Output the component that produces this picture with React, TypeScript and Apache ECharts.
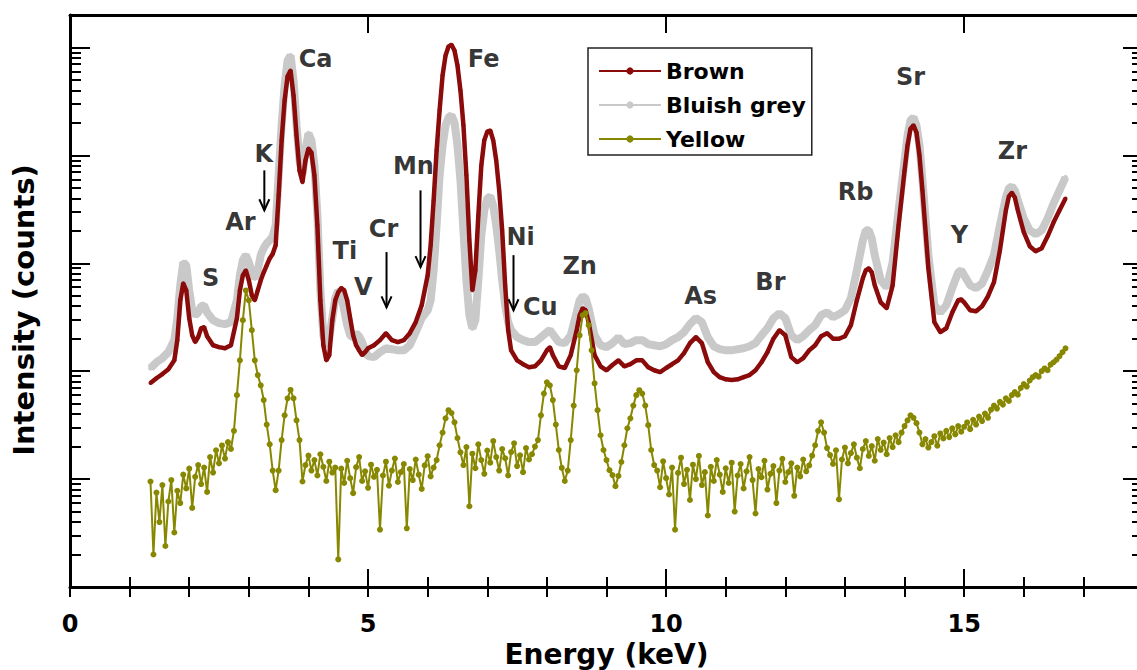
import { useEffect, useRef } from "react";
import * as echarts from "echarts";

const FONT = "DejaVu Sans";

// Energy (keV) vs intensity (counts)
const grey: [number, number][] = [
  [1.35, 107], [1.45, 121], [1.55, 132], [1.65, 150], [1.75, 194], [1.8, 310], [1.85, 625], [1.9, 1020],
  [1.95, 958], [2.0, 562], [2.05, 367], [2.1, 330], [2.15, 350], [2.2, 400], [2.25, 408], [2.3, 350],
  [2.4, 297], [2.5, 279], [2.6, 273], [2.7, 285], [2.8, 454], [2.85, 774], [2.9, 1070], [2.95, 1190],
  [3.0, 1020], [3.05, 825], [3.1, 727], [3.15, 861], [3.2, 1190], [3.25, 1380], [3.3, 1530], [3.35, 1630],
  [3.4, 1780], [3.45, 2250], [3.5, 6530], [3.55, 19000], [3.6, 44500], [3.65, 75800], [3.7, 84300], [3.75, 49500],
  [3.8, 19000], [3.85, 8990], [3.9, 6670], [3.95, 11100], [4.0, 16000], [4.05, 13800], [4.1, 8080], [4.15, 2780],
  [4.2, 562], [4.25, 215], [4.3, 174], [4.35, 206], [4.4, 310], [4.45, 474], [4.5, 562], [4.55, 505],
  [4.6, 367], [4.65, 267], [4.7, 215], [4.75, 206], [4.8, 225], [4.85, 211], [4.9, 186], [4.95, 156],
  [5.0, 138], [5.1, 135], [5.2, 150], [5.3, 163], [5.4, 160], [5.5, 156], [5.6, 156], [5.7, 174],
  [5.8, 230], [5.9, 310], [6.0, 367], [6.05, 454], [6.1, 861], [6.15, 2250], [6.2, 6530], [6.25, 12400],
  [6.3, 19000], [6.35, 22500], [6.4, 23500], [6.45, 20200], [6.5, 12400], [6.55, 5870], [6.6, 2020], [6.65, 696],
  [6.7, 330], [6.75, 250], [6.8, 297], [6.85, 696], [6.9, 1820], [6.95, 3100], [7.0, 3990], [7.05, 4170],
  [7.1, 3440], [7.15, 2250], [7.2, 1320], [7.25, 696], [7.3, 408], [7.35, 285], [7.4, 240], [7.5, 207],
  [7.6, 194], [7.7, 186], [7.8, 186], [7.9, 206], [8.0, 230], [8.05, 240], [8.1, 220], [8.2, 186],
  [8.3, 182], [8.4, 215], [8.5, 350], [8.55, 454], [8.6, 495], [8.65, 474], [8.7, 383], [8.8, 215],
  [8.9, 174], [9.0, 167], [9.1, 182], [9.2, 206], [9.3, 178], [9.4, 182], [9.5, 194], [9.6, 194],
  [9.7, 178], [9.8, 174], [9.9, 170], [10.0, 178], [10.1, 194], [10.2, 207], [10.3, 230], [10.4, 273],
  [10.5, 310], [10.6, 285], [10.7, 206], [10.8, 170], [10.9, 160], [11.0, 156], [11.1, 156], [11.2, 160],
  [11.3, 163], [11.4, 170], [11.5, 182], [11.6, 215], [11.7, 250], [11.8, 310], [11.9, 343], [12.0, 310],
  [12.1, 215], [12.2, 194], [12.3, 211], [12.4, 240], [12.5, 267], [12.6, 330], [12.7, 350], [12.8, 317],
  [12.9, 337], [13.0, 367], [13.1, 474], [13.2, 861], [13.3, 1630], [13.35, 2020], [13.4, 2020], [13.45, 1700],
  [13.5, 1190], [13.6, 696], [13.7, 600], [13.8, 1020], [13.9, 3100], [14.0, 8990], [14.05, 15300], [14.1, 21100],
  [14.15, 22500], [14.2, 19000], [14.25, 12400], [14.3, 5870], [14.4, 1190], [14.5, 408], [14.6, 350], [14.7, 408],
  [14.8, 590], [14.9, 825], [14.95, 861], [15.0, 774], [15.1, 625], [15.2, 590], [15.3, 650], [15.4, 861],
  [15.5, 1190], [15.6, 2250], [15.7, 4080], [15.75, 4950], [15.8, 5150], [15.85, 4740], [15.9, 3830], [16.0, 2600],
  [16.1, 2020], [16.2, 1860], [16.3, 2020], [16.4, 2600], [16.5, 3590], [16.6, 4740], [16.7, 6250],
];

const brown: [number, number][] = [
  [1.35, 77.6], [1.45, 86], [1.55, 94], [1.65, 104], [1.75, 126], [1.8, 194], [1.85, 454], [1.9, 653],
  [1.95, 562], [2.0, 310], [2.05, 215], [2.1, 186], [2.15, 207], [2.2, 250], [2.25, 256], [2.3, 211],
  [2.4, 174], [2.5, 167], [2.6, 163], [2.7, 174], [2.8, 310], [2.85, 562], [2.9, 774], [2.95, 861],
  [3.0, 696], [3.05, 505], [3.1, 454], [3.15, 562], [3.2, 696], [3.25, 825], [3.3, 958], [3.35, 1110],
  [3.4, 1220], [3.45, 1470], [3.5, 4260], [3.55, 13800], [3.6, 32300], [3.65, 54000], [3.7, 61200], [3.75, 35900],
  [3.8, 15300], [3.85, 7260], [3.9, 5630], [3.95, 8990], [4.0, 11600], [4.05, 10600], [4.1, 6530], [4.15, 2250],
  [4.2, 454], [4.25, 174], [4.3, 126], [4.35, 141], [4.4, 297], [4.45, 454], [4.5, 539], [4.55, 590],
  [4.6, 562], [4.65, 454], [4.7, 310], [4.75, 215], [4.8, 174], [4.85, 156], [4.9, 141], [4.95, 150],
  [5.0, 163], [5.1, 174], [5.2, 194], [5.3, 225], [5.4, 194], [5.5, 186], [5.6, 194], [5.7, 225],
  [5.8, 285], [5.9, 408], [6.0, 774], [6.05, 1470], [6.1, 3830], [6.15, 11100], [6.2, 26100], [6.25, 55100],
  [6.3, 84300], [6.35, 102000], [6.4, 106000], [6.45, 93800], [6.5, 68100], [6.55, 40000], [6.6, 19000], [6.65, 6530],
  [6.7, 1630], [6.75, 562], [6.8, 861], [6.85, 2780], [6.9, 8080], [6.95, 13800], [7.0, 16600], [7.05, 17000],
  [7.1, 13800], [7.15, 8990], [7.2, 4740], [7.25, 2020], [7.3, 625], [7.35, 240], [7.4, 156], [7.5, 126],
  [7.6, 116], [7.7, 109], [7.8, 111], [7.9, 126], [8.0, 156], [8.05, 167], [8.1, 141], [8.2, 111],
  [8.3, 107], [8.4, 141], [8.5, 240], [8.55, 330], [8.6, 383], [8.65, 367], [8.7, 285], [8.8, 141],
  [8.9, 111], [9.0, 102], [9.1, 114], [9.2, 126], [9.3, 111], [9.4, 116], [9.5, 126], [9.6, 126],
  [9.7, 109], [9.8, 102], [9.9, 98], [10.0, 107], [10.1, 116], [10.2, 126], [10.3, 147], [10.4, 182],
  [10.5, 207], [10.6, 182], [10.7, 121], [10.8, 98], [10.9, 88], [11.0, 84], [11.1, 83], [11.2, 84],
  [11.3, 88], [11.4, 92], [11.5, 102], [11.6, 121], [11.7, 150], [11.8, 200], [11.9, 240], [12.0, 215],
  [12.1, 135], [12.2, 121], [12.3, 132], [12.4, 156], [12.5, 174], [12.6, 211], [12.7, 225], [12.8, 200],
  [12.9, 200], [13.0, 211], [13.1, 267], [13.2, 454], [13.3, 727], [13.35, 861], [13.4, 900], [13.45, 825],
  [13.5, 625], [13.6, 434], [13.7, 383], [13.8, 625], [13.9, 2250], [14.0, 7260], [14.05, 12400], [14.1, 17700],
  [14.15, 19000], [14.2, 16300], [14.25, 10000], [14.3, 4740], [14.4, 900], [14.5, 285], [14.6, 230], [14.7, 250],
  [14.8, 350], [14.9, 454], [14.95, 462], [15.0, 434], [15.1, 367], [15.2, 360], [15.3, 400], [15.4, 495],
  [15.5, 668], [15.6, 1320], [15.7, 3100], [15.75, 4170], [15.8, 4500], [15.85, 4080], [15.9, 3100], [16.0, 1940],
  [16.1, 1440], [16.2, 1290], [16.3, 1380], [16.4, 1780], [16.5, 2400], [16.6, 3100], [16.7, 3990],
];

const yellow: [number, number][] = [
  [1.35, 9.5], [1.4, 2.0], [1.45, 7.5], [1.5, 4.0], [1.55, 8.8], [1.6, 2.4], [1.65, 6.2], [1.7, 9.8],
  [1.75, 3.2], [1.8, 7.8], [1.85, 6.0], [1.9, 11.0], [1.95, 8.2], [2.0, 12.5], [2.05, 5.4], [2.1, 10.5],
  [2.15, 13.5], [2.2, 9.0], [2.25, 12.8], [2.3, 7.6], [2.35, 16.0], [2.4, 11.5], [2.45, 18.5], [2.5, 14.0],
  [2.55, 20.5], [2.6, 15.5], [2.65, 22.0], [2.7, 19.0], [2.75, 28], [2.8, 60], [2.85, 126], [2.9, 297],
  [2.95, 560], [3.0, 454], [3.05, 240], [3.1, 126], [3.15, 92], [3.2, 74], [3.25, 54], [3.3, 32],
  [3.35, 21], [3.4, 12], [3.45, 7.9], [3.5, 12], [3.55, 23], [3.6, 39], [3.65, 56], [3.7, 67],
  [3.75, 56], [3.8, 35], [3.85, 23], [3.9, 9.5], [3.95, 13.5], [4.0, 16.5], [4.05, 12.0], [4.1, 15.0],
  [4.15, 10.8], [4.2, 17.0], [4.25, 13.0], [4.3, 9.6], [4.35, 14.5], [4.4, 11.5], [4.45, 12.8], [4.5, 1.8],
  [4.55, 12.5], [4.6, 9.2], [4.65, 14.8], [4.7, 10.2], [4.75, 7.4], [4.8, 12.9], [4.85, 16.0], [4.9, 9.6],
  [4.95, 11.8], [5.0, 8.3], [5.05, 13.6], [5.1, 10.5], [5.15, 12.2], [5.2, 3.4], [5.25, 10.8], [5.3, 14.5],
  [5.35, 8.7], [5.4, 12.0], [5.45, 15.5], [5.5, 9.4], [5.55, 11.6], [5.6, 13.8], [5.65, 3.5], [5.7, 12.4],
  [5.75, 9.8], [5.8, 15.2], [5.85, 11.0], [5.9, 8.1], [5.95, 13.4], [6.0, 16.3], [6.05, 10.6], [6.1, 12.8],
  [6.15, 15], [6.2, 20.6], [6.25, 27], [6.3, 36.6], [6.35, 43.5], [6.4, 41], [6.45, 33.6], [6.5, 24],
  [6.55, 17.7], [6.6, 13.5], [6.65, 19.8], [6.7, 5.6], [6.75, 17.2], [6.8, 12.6], [6.85, 21.0], [6.9, 15.0],
  [6.95, 11.2], [7.0, 18.4], [7.05, 14.2], [7.1, 22.5], [7.15, 16.0], [7.2, 12.0], [7.25, 19.0], [7.3, 15.6],
  [7.35, 10.8], [7.4, 17.8], [7.45, 21.5], [7.5, 13.2], [7.55, 16.6], [7.6, 11.6], [7.65, 19.4], [7.7, 15.2],
  [7.75, 17.0], [7.8, 20.0], [7.85, 23], [7.9, 39], [7.95, 62], [8.0, 79], [8.05, 74], [8.1, 54],
  [8.15, 32], [8.2, 18.6], [8.25, 12.7], [8.3, 9.6], [8.35, 12], [8.4, 23], [8.45, 48], [8.5, 102],
  [8.55, 215], [8.6, 330], [8.65, 346], [8.7, 267], [8.75, 156], [8.8, 77], [8.85, 43.5], [8.9, 25.5],
  [8.95, 18.6], [9.0, 15], [9.05, 12.1], [9.1, 10.9], [9.15, 8.6], [9.2, 10.7], [9.25, 14.4], [9.3, 20.6],
  [9.35, 29.6], [9.4, 36.6], [9.45, 48], [9.5, 60], [9.55, 66.7], [9.6, 62], [9.65, 48], [9.7, 31.6],
  [9.75, 18.6], [9.8, 13.5], [9.85, 12.0], [9.9, 8.4], [9.95, 14.6], [10.0, 10.2], [10.05, 7.2], [10.1, 12.8],
  [10.15, 3.4], [10.2, 11.4], [10.25, 15.8], [10.3, 9.0], [10.35, 12.2], [10.4, 6.4], [10.45, 13.6], [10.5, 10.0],
  [10.55, 16.4], [10.6, 8.8], [10.65, 11.6], [10.7, 4.6], [10.75, 13.0], [10.8, 9.6], [10.85, 15.0], [10.9, 11.0],
  [10.95, 7.6], [11.0, 12.6], [11.05, 9.2], [11.1, 14.2], [11.15, 5.0], [11.2, 10.8], [11.25, 13.8], [11.3, 8.2],
  [11.35, 11.8], [11.4, 16.0], [11.45, 9.8], [11.5, 4.8], [11.55, 12.4], [11.6, 10.4], [11.65, 14.8], [11.7, 8.0],
  [11.75, 11.2], [11.8, 13.2], [11.85, 6.0], [11.9, 12.0], [11.95, 15.4], [12.0, 9.4], [12.05, 11.6], [12.1, 14.0],
  [12.15, 7.0], [12.2, 12.8], [12.25, 10.6], [12.3, 15.2], [12.35, 11.8], [12.4, 13.4], [12.45, 16.5], [12.5, 20.6],
  [12.55, 28], [12.6, 33.6], [12.65, 27], [12.7, 19.4], [12.75, 16.7], [12.8, 13.8], [12.85, 18.5], [12.9, 6.5],
  [12.95, 15.2], [13.0, 19.6], [13.05, 14.0], [13.1, 17.4], [13.15, 21.0], [13.2, 15.8], [13.25, 12.6], [13.3, 19.0],
  [13.35, 22.5], [13.4, 16.4], [13.45, 20.2], [13.5, 14.8], [13.55, 23.5], [13.6, 18.6], [13.65, 21.8], [13.7, 17.0],
  [13.75, 24.0], [13.8, 19.8], [13.85, 25.5], [13.9, 22.0], [13.95, 27], [14.0, 31], [14.05, 35], [14.1, 39],
  [14.15, 37], [14.2, 33], [14.25, 27], [14.3, 21], [14.35, 23.5], [14.4, 19.6], [14.45, 22.0], [14.5, 25.0],
  [14.55, 20.4], [14.6, 26.5], [14.65, 23.8], [14.7, 28.0], [14.75, 24.5], [14.8, 29.5], [14.85, 26.0], [14.9, 31.0],
  [14.95, 27.5], [15.0, 30.5], [15.05, 33.5], [15.1, 29.0], [15.15, 35.5], [15.2, 32.0], [15.25, 38.0], [15.3, 34.5],
  [15.35, 40.5], [15.4, 37.0], [15.45, 44.0], [15.5, 48.0], [15.55, 45.0], [15.6, 52.0], [15.65, 49.0], [15.7, 56.0],
  [15.75, 53.0], [15.8, 60.0], [15.85, 64.0], [15.9, 60.5], [15.95, 70.0], [16.0, 76.0], [16.05, 72.0], [16.1, 82.0],
  [16.15, 88.0], [16.2, 92.0], [16.25, 89.0], [16.3, 100.0], [16.35, 106.0], [16.4, 102.0], [16.45, 115.0], [16.5, 121.0],
  [16.55, 128.0], [16.6, 138.0], [16.65, 150.0], [16.7, 163.0],
];

// Element annotations [energy, counts]
const elementLabels = [
  { name: "S", value: [2.36, 730] },
  { name: "Ar", value: [2.86, 2400] },
  { name: "K", value: [3.25, 10400] },
  { name: "Ca", value: [4.12, 79000] },
  { name: "Ti", value: [4.61, 1300] },
  { name: "V", value: [4.92, 600] },
  { name: "Cr", value: [5.26, 2100] },
  { name: "Mn", value: [5.76, 7900] },
  { name: "Fe", value: [6.94, 79000] },
  { name: "Ni", value: [7.56, 1750] },
  { name: "Cu", value: [7.89, 390] },
  { name: "Zn", value: [8.55, 935] },
  { name: "As", value: [10.58, 495] },
  { name: "Br", value: [11.75, 667] },
  { name: "Rb", value: [13.18, 4550] },
  { name: "Sr", value: [14.1, 52800] },
  { name: "Y", value: [14.92, 1820] },
  { name: "Zr", value: [15.81, 10900] },
];

// Arrows [energy, counts at tail, counts at head]
const arrows = [
  [3.26, 7260, 3100],
  [5.31, 1270, 390],
  [5.88, 4740, 920],
  [7.44, 1190, 367],
];

const legendNames = ["Brown", "Bluish grey", "Yellow"];
const xTickLabels = [0, 5, 10, 15];

const X_MIN = 0;
const X_MAX = 18;
const Y_MIN = 1;
const Y_MAX = 200000;

export default function App() {
  const ref = useRef<HTMLDivElement>(null);
  useEffect(() => {
    if (!ref.current) return;
    const chart = echarts.init(ref.current, undefined, { renderer: "svg" });
    const logMax = Math.log10(Y_MAX);
    const decades = [0, 1, 2, 3, 4, 5];
    const yMinor: number[] = [];
    decades.forEach((n) => {
      for (let k = 2; k <= 9; k++) {
        const v = n + Math.log10(k);
        if (v <= logMax) yMinor.push(v);
      }
    });
    const tickLine = { color: "#000", width: 2 };
    const frameLine = { color: "#000", width: 3 };
    const bold = { fontFamily: FONT, fontWeight: "bold" as const, color: "#000" };

    const xBase = { type: "value" as const, min: X_MIN, max: X_MAX, splitLine: { show: false } };
    const tickY = (pos: string, values: number[], len: number, line: boolean) => ({
      type: "value",
      min: 0,
      max: logMax,
      position: pos,
      axisLine: { show: line, onZero: false, lineStyle: frameLine },
      axisTick: { show: true, inside: true, length: len, customValues: values, lineStyle: tickLine },
      axisLabel: { show: false },
      splitLine: { show: false },
    });

    const option: any = {
      animation: false,
      backgroundColor: "#fff",
      grid: { left: 70, top: 15, width: 1073, height: 572, containLabel: false, outerBoundsMode: "none" },
      legend: {
        data: legendNames,
        orient: "vertical",
        left: 588,
        top: 48,
        itemWidth: 62,
        itemHeight: 9,
        itemGap: 12,
        padding: [12, 6, 5, 10],
        borderColor: "#222",
        borderWidth: 1.5,
        selectedMode: false,
        lineStyle: { width: 2 },
        textStyle: { ...bold, fontSize: 22 },
      },
      xAxis: [
        {
          ...xBase,
          interval: 5,
          position: "bottom",
          axisLine: { show: true, onZero: false, lineStyle: frameLine },
          axisTick: { show: true, inside: true, length: 18, lineStyle: tickLine },
          axisLabel: {
            ...bold,
            fontSize: 24,
            margin: 25,
            formatter: (v: number) => (xTickLabels.includes(v) ? String(v) : ""),
          },
          name: "Energy (keV)",
          nameLocation: "middle",
          nameGap: 40,
          nameTextStyle: { ...bold, fontSize: 28, lineHeight: 28 },
        },
        {
          ...xBase,
          interval: 1,
          position: "bottom",
          axisLine: { show: false },
          axisTick: { show: true, inside: true, length: 10, lineStyle: tickLine },
          axisLabel: { show: false },
        },
        {
          ...xBase,
          interval: 5,
          position: "top",
          axisLine: { show: true, onZero: false, lineStyle: frameLine },
          axisTick: { show: true, inside: true, length: 18, lineStyle: tickLine },
          axisLabel: { show: false },
        },
        {
          ...xBase,
          interval: 1,
          position: "top",
          axisLine: { show: false },
          axisTick: { show: true, inside: true, length: 10, lineStyle: tickLine },
          axisLabel: { show: false },
        },
      ],
      yAxis: [
        {
          type: "log",
          logBase: 10,
          min: Y_MIN,
          max: Y_MAX,
          position: "left",
          axisLine: { show: true, onZero: false, lineStyle: frameLine },
          axisTick: { show: false },
          axisLabel: { show: false },
          splitLine: { show: false },
          name: "Intensity (counts)",
          nameLocation: "middle",
          nameGap: 32,
          nameTextStyle: { ...bold, fontSize: 29, padding: [0, 18, 0, 0] },
        },
        tickY("left", decades, 20, false),
        tickY("left", yMinor, 11, false),
        tickY("right", decades, 20, true),
        tickY("right", yMinor, 11, false),
      ],
      series: [
        {
          name: "Bluish grey",
          type: "line",
          data: grey,
          symbol: "circle",
          symbolSize: 5,
          showSymbol: true,
          lineStyle: { color: "#c9c9c9", width: 8 },
          itemStyle: { color: "#c9c9c9", borderWidth: 0 },
          z: 2,
        },
        {
          name: "Brown",
          type: "line",
          data: brown,
          symbol: "circle",
          symbolSize: 4,
          showSymbol: true,
          lineStyle: { color: "#8b0a0a", width: 4.5 },
          itemStyle: { color: "#8b0a0a", borderWidth: 0 },
          z: 3,
        },
        {
          name: "Yellow",
          type: "line",
          data: yellow,
          symbol: "circle",
          symbolSize: 6,
          showSymbol: true,
          lineStyle: { color: "#878700", width: 2 },
          itemStyle: { color: "#878700", borderWidth: 0 },
          z: 4,
        },
        {
          type: "custom",
          data: arrows,
          encode: { x: 0, y: [1, 2] },
          silent: true,
          z: 5,
          renderItem: (_p: any, api: any) => {
            const a = api.coord([api.value(0), api.value(1)]);
            const b = api.coord([api.value(0), api.value(2)]);
            return {
              type: "group",
              children: [
                { type: "line", shape: { x1: a[0], y1: a[1], x2: b[0], y2: b[1] }, style: { stroke: "#000", lineWidth: 2 } },
                {
                  type: "polyline",
                  shape: { points: [[b[0] - 5, b[1] - 11], [b[0], b[1]], [b[0] + 5, b[1] - 11]] },
                  style: { stroke: "#000", lineWidth: 2, fill: null },
                },
              ],
            };
          },
        },
        {
          type: "scatter",
          data: elementLabels,
          symbolSize: 0,
          silent: true,
          z: 6,
          label: { show: true, position: "inside", formatter: "{b}", ...bold, fontSize: 24 },
        },
      ],
    };
    chart.setOption(option);
    return () => chart.dispose();
  }, []);
  return (
    <div
      ref={ref}
      style={{ position: "absolute", left: 0, top: 0, width: 1137, height: 670, background: "#fff" }}
    />
  );
}
